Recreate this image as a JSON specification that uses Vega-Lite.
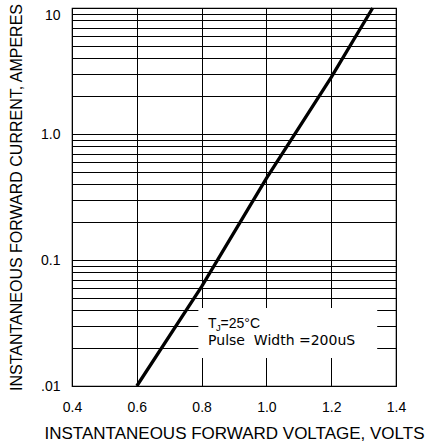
{
  "$schema": "https://vega.github.io/schema/vega-lite/v6.json",
  "width": 324,
  "height": 378,
  "autosize": "none",
  "padding": {"left": 72, "top": 8, "right": 36, "bottom": 59},
  "background": "white",
  "config": {
    "view": {"stroke": "black", "strokeWidth": 1.2},
    "font": "Liberation Sans",
    "axis": {
      "grid": true,
      "gridColor": "black",
      "gridOpacity": 1,
      "gridWidth": 1,
      "ticks": false,
      "tickSize": 0,
      "domain": false,
      "labelColor": "black",
      "labelFont": "Liberation Sans",
      "labelFontSize": 14,
      "titleColor": "black",
      "titleFont": "Liberation Sans",
      "titleFontWeight": "normal",
      "labelOverlap": false,
      "labelFlush": false
    }
  },
  "datasets": {
    "curve": [
      {"v": 0.6, "i": 0.01},
      {"v": 0.8, "i": 0.0614},
      {"v": 1.0, "i": 0.445},
      {"v": 1.2, "i": 2.82},
      {"v": 1.328, "i": 10}
    ],
    "box": [{"v": 0.79, "v2": 1.342, "i": 0.0416, "i2": 0.0167}],
    "note1": [{"v": 0.82, "i": 0.0289}],
    "note2": [{"v": 0.82, "i": 0.0211, "label": "Pulse\u00a0\u00a0Width\u00a0=200uS"}]
  },
  "layer": [
    {
      "data": {"name": "curve"},
      "mark": {"type": "line", "color": "black", "strokeWidth": 3.3},
      "encoding": {
        "x": {
          "field": "v",
          "type": "quantitative",
          "scale": {"domain": [0.4, 1.4], "nice": false, "zero": false},
          "axis": {
            "values": [0.4, 0.6, 0.8, 1.0, 1.2, 1.4],
            "format": ".1f",
            "labelPadding": 14,
            "title": "INSTANTANEOUS FORWARD VOLTAGE, VOLTS",
            "titleFontSize": 17,
            "titlePadding": 11
          }
        },
        "y": {
          "field": "i",
          "type": "quantitative",
          "scale": {"type": "log", "domain": [0.01, 10], "nice": false},
          "axis": {
            "values": [0.01, 0.02, 0.03, 0.04, 0.05, 0.06, 0.07, 0.08, 0.09, 0.1, 0.2, 0.3, 0.4, 0.5, 0.6, 0.7, 0.8, 0.9, 1, 2, 3, 4, 5, 6, 7, 8, 9, 10],
            "labelExpr": "datum.value == 10 ? '10' : datum.value == 1 ? '1.0' : datum.value == 0.1 ? '0.1' : datum.value == 0.01 ? '.01' : ''",
            "labelBaseline": {"condition": {"test": "datum.value >= 10", "value": "top"}, "value": "middle"},
            "labelPadding": 12,
            "title": "INSTANTANEOUS FORWARD CURRENT, AMPERES",
            "titleFontSize": 16,
            "titlePadding": 16
          }
        }
      }
    },
    {
      "data": {"name": "box"},
      "mark": {"type": "rect", "fill": "white", "stroke": null},
      "encoding": {
        "x": {"field": "v", "type": "quantitative"},
        "x2": {"field": "v2"},
        "y": {"field": "i", "type": "quantitative"},
        "y2": {"field": "i2"}
      }
    },
    {
      "data": {"name": "note1"},
      "mark": {"type": "text", "align": "left", "baseline": "alphabetic", "fontSize": 14, "color": "black", "font": "Liberation Sans"},
      "encoding": {
        "x": {"field": "v", "type": "quantitative"},
        "y": {"field": "i", "type": "quantitative"},
        "text": {"value": "T"}
      }
    },
    {
      "data": {"name": "note1"},
      "mark": {"type": "text", "align": "left", "baseline": "alphabetic", "fontSize": 9.5, "dx": 8, "dy": 3, "color": "black", "font": "Liberation Sans"},
      "encoding": {
        "x": {"field": "v", "type": "quantitative"},
        "y": {"field": "i", "type": "quantitative"},
        "text": {"value": "J"}
      }
    },
    {
      "data": {"name": "note1"},
      "mark": {"type": "text", "align": "left", "baseline": "alphabetic", "fontSize": 14, "dx": 12.5, "color": "black", "font": "Liberation Sans"},
      "encoding": {
        "x": {"field": "v", "type": "quantitative"},
        "y": {"field": "i", "type": "quantitative"},
        "text": {"value": "=25°C"}
      }
    },
    {
      "data": {"name": "note2"},
      "mark": {"type": "text", "align": "left", "baseline": "alphabetic", "fontSize": 14, "color": "black", "font": "DejaVu Sans"},
      "encoding": {
        "x": {"field": "v", "type": "quantitative"},
        "y": {"field": "i", "type": "quantitative"},
        "text": {"field": "label"}
      }
    }
  ]
}
